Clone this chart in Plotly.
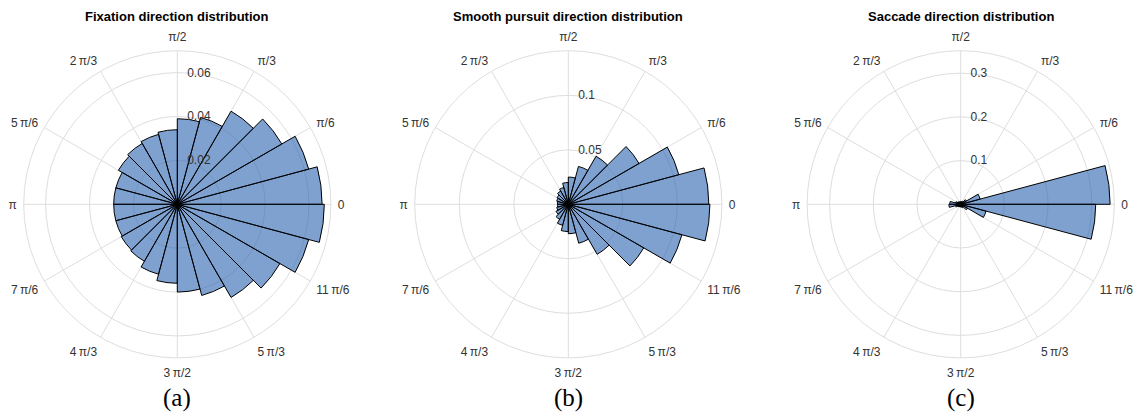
import plotly.graph_objects as go

# 24 direction bins of 15 degrees (bin centers in degrees)
bin_centers = [7.5 + 15 * k for k in range(24)]

fixation = [0.066, 0.062, 0.055, 0.049, 0.041, 0.039,
            0.034, 0.033, 0.032, 0.031, 0.029, 0.029,
            0.029, 0.029, 0.0295, 0.030, 0.033, 0.036,
            0.040, 0.043, 0.049, 0.054, 0.062, 0.067]

smooth_pursuit = [0.129, 0.105, 0.075, 0.051, 0.036, 0.025,
                  0.020, 0.016, 0.014, 0.012, 0.011, 0.010,
                  0.010, 0.011, 0.013, 0.016, 0.020, 0.025,
                  0.027, 0.037, 0.053, 0.080, 0.108, 0.130]

saccade = [0.342, 0.046, 0.015, 0.008, 0.006, 0.006,
           0.006, 0.006, 0.007, 0.008, 0.012, 0.025,
           0.027, 0.012, 0.008, 0.007, 0.006, 0.006,
           0.006, 0.007, 0.009, 0.018, 0.060, 0.309]

titles = ["Fixation direction distribution",
          "Smooth pursuit direction distribution",
          "Saccade direction distribution"]
captions = ["(a)", "(b)", "(c)"]

angle_tickvals = [0, 30, 60, 90, 120, 150, 180, 210, 240, 270, 300, 330]
angle_ticktext = ["0", "\u03c0/6", "\u03c0/3", "\u03c0/2", "2\u2009\u03c0/3", "5\u2009\u03c0/6",
                  "\u03c0", "7\u2009\u03c0/6", "4\u2009\u03c0/3", "3\u2009\u03c0/2", "5\u2009\u03c0/3", "11\u2009\u03c0/6"]

radial_ranges = [0.07, 0.141, 0.3515]
radial_ticks = [[0.02, 0.04, 0.06], [0.05, 0.1], [0.1, 0.2, 0.3]]
radial_ticktext = [["0.02", "0.04", "0.06"], ["0.05", "0.1"], ["0.1", "0.2", "0.3"]]

W, H = 1137, 419
centers_x = [177.3, 568.3, 960.7]
center_y = 204.3
R = 153.6

fill = "rgba(42,98,175,0.6)"
grid = "rgb(222,222,222)"

fig = go.Figure()
series = [fixation, smooth_pursuit, saccade]
for i, vals in enumerate(series):
    key = "polar" if i == 0 else f"polar{i+1}"
    fig.add_trace(go.Barpolar(
        r=vals, theta=bin_centers, width=[15] * len(vals),
        marker=dict(color=fill, line=dict(color="black", width=1)),
        subplot=key, showlegend=False, hoverinfo="skip"))
    cx = centers_x[i]
    dom_x = [(cx - R) / W, (cx + R) / W]
    dom_y = [(H - center_y - R) / H, (H - center_y + R) / H]
    fig.update_layout(**{key: dict(
        domain=dict(x=dom_x, y=dom_y),
        bgcolor="white",
        radialaxis=dict(range=[0, radial_ranges[i]], tickvals=radial_ticks[i],
                        ticktext=radial_ticktext[i], angle=90, tickangle=90,
                        side="clockwise", showline=False,
                        ticks="outside", ticklen=7, tickcolor="rgba(0,0,0,0)",
                        gridcolor=grid, gridwidth=1,
                        tickfont=dict(family="Liberation Sans, Arial", size=12, color="#333333"),
                        layer="above traces"),
        angularaxis=dict(direction="counterclockwise", rotation=0,
                         tickmode="array", tickvals=angle_tickvals, ticktext=angle_ticktext,
                         showline=True, linecolor=grid, linewidth=1,
                         gridcolor=grid, gridwidth=1,
                         ticks="outside", ticklen=4, tickcolor="rgba(0,0,0,0)",
                         tickfont=dict(family="Liberation Sans, Arial", size=12, color="#333333"))
    )})
    fig.add_annotation(text=f"<b>{titles[i]}</b>", x=cx / W, y=1 - 17 / H,
                       xref="paper", yref="paper", showarrow=False,
                       xanchor="center", yanchor="middle",
                       font=dict(family="Liberation Sans, Arial", size=13, color="black"))
    fig.add_annotation(text=captions[i], x=cx / W, y=1 - 398 / H,
                       xref="paper", yref="paper", showarrow=False,
                       xanchor="center", yanchor="middle",
                       font=dict(family="Liberation Serif", size=25, color="black"))

fig.update_layout(width=W, height=H, margin=dict(l=0, r=0, t=0, b=0),
                  paper_bgcolor="white", plot_bgcolor="white")
fig.write_html("out.html")
